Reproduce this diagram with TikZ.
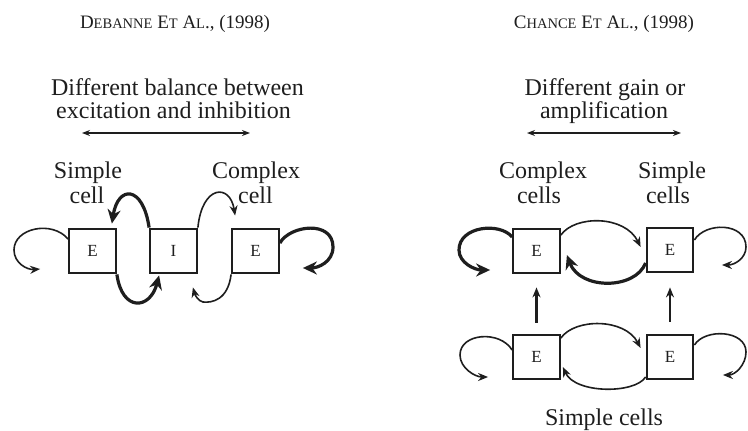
\documentclass[tikz,border=0pt]{standalone}
\usepackage{fontspec}
\setmainfont{Liberation Serif}
\usetikzlibrary{arrows.meta}
\definecolor{ink}{HTML}{1E1E1E}
% reduced-size capitals for the author lines
\newcommand\smallcap[1]{{\fontsize{14.5}{15}\selectfont #1}}

\begin{document}
\begin{tikzpicture}[x=1pt,y=-1pt,
  cellbox/.style={draw=ink, line width=2.3pt, minimum width=46.5pt, minimum height=44.5pt,
                  inner sep=0pt, font=\fontsize{17}{17}\selectfont, text=ink},
  caption/.style={inner sep=0pt, anchor=base, font=\fontsize{24}{24}\selectfont, text=ink},
  header/.style={inner sep=0pt, anchor=base, font=\fontsize{19}{19}\selectfont, text=ink},
  thinlink/.style={draw=ink, line width=1.6pt, -{Stealth[length=10pt,width=8pt]}},
  thicklink/.style={draw=ink, line width=3.2pt, -{Stealth[length=14pt,width=13pt]}},
  span/.style={draw=ink, line width=1.5pt,
               {Stealth[length=8pt,width=6pt]}-{Stealth[length=8pt,width=6pt]}},
  feed/.style={draw=ink, line width=2.5pt, -{Stealth[length=10pt,width=8pt]}}]
\useasboundingbox (0,0) rectangle (748,431);

% ---------------- left panel ----------------
\node[header] (hl) at (175,28) {D\smallcap{EBANNE} E\smallcap{T} A\smallcap{L}., (1998)};
\node[caption] (tl1) at (177.5,95) {Different balance between};
\node[caption] (tl2) at (173.5,118) {excitation and inhibition};
\coordinate (la) at (82,133);
\coordinate (lb) at (250,133);
\draw[span] (la) -- (lb);

\node[caption] (sl1) at (88,178) {Simple};
\node[caption] (sl2) at (87,203) {cell};
\node[caption] (cl1) at (256,178) {Complex};
\node[caption] (cl2) at (255.5,203) {cell};

\node[cellbox] (e1) at (92.5,251) {E};
\node[cellbox] (ib) at (173.5,251) {I};
\node[cellbox] (e2) at (255.5,251) {E};

\draw[thinlink] ([yshift=12pt]e1.west) .. controls (52,220) and (14,228) .. (14,250)
  .. controls (14,263) and (27,270) .. ([xshift=-28pt,yshift=-18pt]e1.west);
\draw[thicklink] (ib.north west) .. controls (143,185) and (118,185) ..
  ([xshift=-5pt,yshift=4pt]e1.north east);
\draw[thicklink] (e1.south east) .. controls (122,312) and (150,310) ..
  ([xshift=10pt,yshift=-1pt]ib.south west);
\draw[thinlink] (ib.north east) .. controls (202,185) and (230,183) ..
  ([xshift=4pt,yshift=12pt]e2.north west);
\draw[thinlink] (e2.south west) .. controls (228,300) and (212,303) .. (203,302)
  .. controls (198,301) and (195,295) .. ([xshift=-5pt,yshift=-13pt]ib.south east);
\draw[thicklink] ([yshift=8pt]e2.east) .. controls (290,225) and (333,220) .. (333,247)
  .. controls (333,262) and (318,268) .. ([xshift=23pt,yshift=-17pt]e2.east);

% ---------------- right panel ----------------
\node[header] (hr) at (604,28) {C\smallcap{HANCE} E\smallcap{T} A\smallcap{L}., (1998)};
\node[caption] (tr1) at (605,95) {Different gain or};
\node[caption] (tr2) at (604,118) {amplification};
\coordinate (ra) at (527,133);
\coordinate (rb) at (681,133);
\draw[span] (ra) -- (rb);

\node[caption] (cc1) at (543,178) {Complex};
\node[caption] (cc2) at (539,203) {cells};
\node[caption] (sc1) at (672,178) {Simple};
\node[caption] (sc2) at (668,203) {cells};
\node[caption] (sb) at (604,425) {Simple cells};

\node[cellbox] (ce) at (536.5,251) {E};
\node[cellbox] (se) at (670,250) {E};
\node[cellbox] (bl) at (536.5,357) {E};
\node[cellbox] (br) at (670,357) {E};

\draw[thicklink] ([yshift=14pt]ce.west) .. controls (500,222) and (459,226) .. (459,250)
  .. controls (459,263) and (475,270) .. ([xshift=-22pt,yshift=-19pt]ce.west);
\draw[thinlink] ([yshift=16pt]ce.east) .. controls (575,215) and (625,215) ..
  ([xshift=-5pt,yshift=3pt]se.west);
\draw[thicklink] ([yshift=-13pt]se.west) .. controls (635,290) and (580,290) ..
  ([xshift=6pt,yshift=-4pt]ce.east);
\draw[thinlink] ([yshift=10pt]se.east) .. controls (705,222) and (746,222) .. (746,247)
  .. controls (746,258) and (735,265) .. ([xshift=27.5pt,yshift=-15pt]se.east);

\draw[thinlink] ([yshift=7pt]bl.west) .. controls (500,330) and (460,333) .. (460,355)
  .. controls (460,368) and (475,377) .. ([xshift=-24pt,yshift=-20pt]bl.west);
\draw[thinlink] ([yshift=19pt]bl.east) .. controls (575,318) and (625,318) ..
  ([xshift=-5pt,yshift=9pt]br.west);
\draw[thinlink] ([yshift=-20pt]br.west) .. controls (635,394) and (575,394) ..
  ([xshift=2pt,yshift=-10pt]bl.east);
\draw[thinlink] ([yshift=12pt]br.east) .. controls (705,328) and (746,330) .. (746,352)
  .. controls (746,365) and (735,375) .. ([xshift=28.5pt,yshift=-18pt]br.east);

\draw[feed] ([yshift=11pt]bl.north) -- ([yshift=-13pt]ce.south);
\draw[feed] ([yshift=12pt]br.north) -- ([yshift=-14pt]se.south);
\end{tikzpicture}
\end{document}
